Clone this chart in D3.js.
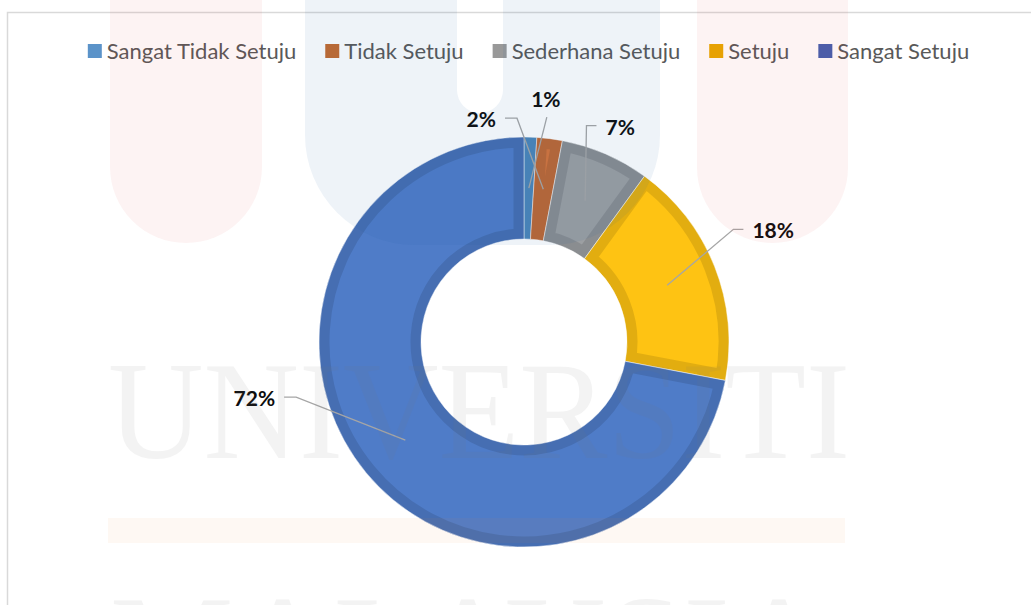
<!DOCTYPE html>
<html>
<head>
<meta charset="utf-8">
<script src="https://cdn.jsdelivr.net/npm/d3@7"></script>
<style>
  html, body { margin: 0; padding: 0; background: #fff; }
  svg { display: block; }
</style>
</head>
<body>
<svg id="chart" width="1031" height="605"></svg>
<script>
// Survey responses, share of respondents (%)
const categories = ["Sangat Tidak Setuju", "Tidak Setuju", "Sederhana Setuju", "Setuju", "Sangat Setuju"];
const values = [1, 2, 7, 18, 72];
const colors = ["#5596d0", "#d6743a", "#9c9fa2", "#fec313", "#4f7cc8"];
const legendColors = ["#5b93c9", "#c46a2f", "#999999", "#e8a800", "#4460b0"];
const labelText = values.map(v => v + "%");

// Hand-placed data label offsets (text centre / baseline relative to the slice centroid)
const labelOffset = {
  "Sangat Tidak Setuju": [17, -81],
  "Tidak Setuju": [-62, -62],
  "Sederhana Setuju": [35, -66],
  "Setuju": [106, -47],
  "Sangat Setuju": [-151, -34]
};

const W = 1031, H = 605;
const cx = 524, cy = 342, rOuter = 205, rInner = 103;
const svg = d3.select("#chart");

// chart area frame
svg.append("path")
  .attr("d", `M7.5,${H} V12.5 H${W}`)
  .attr("fill", "none").attr("stroke", "#d9d9d9").attr("stroke-width", 1.5);

const data = categories.map((c, i) => ({
  name: c, value: values[i], color: colors[i], legendColor: legendColors[i], label: labelText[i]
}));

const pie = d3.pie().value(d => d.value).sort(null).startAngle(0).endAngle(2 * Math.PI);
const arc = d3.arc().innerRadius(rInner).outerRadius(rOuter);
const arcs = pie(data);

const g = svg.append("g").attr("transform", `translate(${cx},${cy})`);
const defs = svg.append("defs");

arcs.forEach((a, i) => {
  defs.append("clipPath").attr("id", "clip" + i)
    .append("path").attr("d", arc(a));
});

const slice = g.selectAll("g.slice").data(arcs).join("g").attr("class", "slice");
slice.append("path")
  .attr("d", arc)
  .attr("fill", d => d.data.color);
// darker inset border band on every slice
slice.append("path")
  .attr("d", arc)
  .attr("fill", "none")
  .attr("stroke", "rgba(0,0,0,0.11)")
  .attr("stroke-width", 21)
  .attr("stroke-linejoin", "miter")
  .attr("clip-path", (d, i) => `url(#clip${i})`);
slice.append("path")
  .attr("d", arc)
  .attr("fill", "none")
  .attr("stroke", "rgba(255,255,255,0.6)")
  .attr("stroke-width", 0.8);

// data labels with leader lines
const labelFont = "Lato, 'Open Sans', sans-serif";
const lab = g.append("g");
arcs.forEach(a => {
  const [mx, my] = arc.centroid(a);
  const [dx, dy] = labelOffset[a.data.name];
  const tx = mx + dx, ty = my + dy;
  const t = lab.append("text")
    .attr("x", tx).attr("y", ty)
    .attr("text-anchor", "middle")
    .attr("font-family", labelFont)
    .attr("font-weight", 700)
    .attr("font-size", 21)
    .attr("fill", "#0d0d0d")
    .text(a.data.label);
  const w = t.node().getComputedTextLength();
  let pts;
  if (Math.abs(dx) < 25) {
    pts = [[tx + 1, ty + 10], [mx, my]];
  } else if (dx < 0) {
    const x0 = tx + w / 2 + 9;
    pts = [[x0, ty - 9], [x0 + 12, ty - 9], [mx, my]];
  } else {
    const x0 = tx - w / 2 - 9;
    pts = [[x0, ty - 9], [x0 - 10, ty - 9], [mx, my]];
  }
  lab.append("path")
    .attr("d", d3.line()(pts))
    .attr("fill", "none")
    .attr("stroke", "#a6a6a6")
    .attr("stroke-width", 1.3);
});

// legend, centred above the doughnut
const legend = svg.append("g").attr("transform", "translate(0,51)");
const legendFont = "Lato, 'Open Sans', sans-serif";
const items = [];
let x = 0;
data.forEach(d => {
  const it = legend.append("g");
  it.append("rect").attr("x", 0).attr("y", -7).attr("width", 14).attr("height", 14).attr("fill", d.legendColor);
  const t = it.append("text").attr("x", 19).attr("y", 8)
    .attr("font-family", legendFont).attr("font-size", 22).attr("fill", "#595959")
    .text(d.name);
  const w = 19 + t.node().getComputedTextLength();
  items.push({ it, x });
  x += w + 29;
});
const total = x - 29;
const x0 = 528.5 - total / 2;
items.forEach(o => o.it.attr("transform", `translate(${x0 + o.x},0)`));

// faint university watermark laid over the chart
const wm = svg.append("g").attr("pointer-events", "none");
const pill = (x1, x2, yb) => {
  const r = (x2 - x1) / 2;
  return `M${x1},-20 V${yb - r} A${r},${r} 0 0 0 ${x2},${yb - r} V-20 Z`;
};
wm.append("path").attr("d", pill(110, 262, 243)).attr("fill", "#e53935").attr("opacity", 0.06);
wm.append("path").attr("d", pill(697, 848, 243)).attr("fill", "#e53935").attr("opacity", 0.06);
const uPath = `M305,-20 V135 A110,110 0 0 0 415,245 H550 A110,110 0 0 0 660,135 V-20 Z ` + pill(457, 503, 113);
wm.append("path").attr("d", uPath).attr("fill-rule", "evenodd").attr("fill", "#1f5aa6").attr("opacity", 0.075);
wm.append("rect").attr("x", 108).attr("y", 518).attr("width", 737).attr("height", 25).attr("fill", "#f08a30").attr("opacity", 0.06);
wm.append("text").attr("x", 108).attr("y", 458)
  .attr("font-family", "'Liberation Serif', serif").attr("font-size", 139)
  .attr("textLength", 742).attr("lengthAdjust", "spacingAndGlyphs")
  .attr("fill", "#7a7a7a").attr("opacity", 0.085).text("UNIVERSITI");
wm.append("text").attr("x", 110).attr("y", 692)
  .attr("font-family", "'Liberation Serif', serif").attr("font-size", 139)
  .attr("textLength", 720).attr("lengthAdjust", "spacingAndGlyphs")
  .attr("fill", "#7a7a7a").attr("opacity", 0.085).text("MALAYSIA");
</script>
</body>
</html>
